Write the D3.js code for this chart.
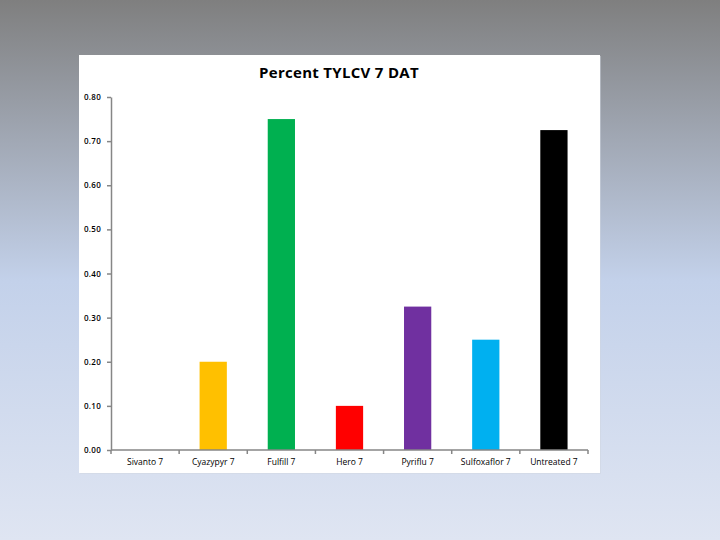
<!DOCTYPE html>
<html>
<head>
<meta charset="utf-8">
<script src="https://cdn.jsdelivr.net/npm/d3@7"></script>
<style>
  body { margin: 0; }
  svg { display: block; }
</style>
</head>
<body>
<div id="chart"></div>
<script>
var categories = ["Sivanto 7", "Cyazypyr 7", "Fulfill 7", "Hero 7", "Pyriflu 7", "Sulfoxaflor 7", "Untreated 7"];
var values = [0, 0.20, 0.75, 0.10, 0.325, 0.25, 0.725];
var colors = ["#7f7f7f", "#ffc000", "#00b050", "#ff0000", "#7030a0", "#00b0f0", "#000000"];
var yTicks = [0, 0.1, 0.2, 0.3, 0.4, 0.5, 0.6, 0.7, 0.8];

var svgwidth = 720, svgheight = 540;
var svg = d3.select("#chart").append("svg").attr("width", svgwidth).attr("height", svgheight);

// slide background
var defs = svg.append("defs");
var grad = defs.append("linearGradient").attr("id", "bg").attr("x1", 0).attr("y1", 0).attr("x2", 0).attr("y2", 1);
grad.append("stop").attr("offset", "0%").attr("stop-color", "#7f7f7f");
grad.append("stop").attr("offset", "52%").attr("stop-color", "#c3d1ea");
grad.append("stop").attr("offset", "100%").attr("stop-color", "#dfe5f2");
svg.append("rect").attr("width", svgwidth).attr("height", svgheight).attr("fill", "url(#bg)");

// chart box
svg.append("rect").attr("x", 80).attr("y", 56).attr("width", 521).attr("height", 418).attr("fill", "#d0d6e0").attr("opacity", 0.5);
svg.append("rect").attr("x", 79).attr("y", 55).attr("width", 521).attr("height", 418).attr("fill", "#ffffff");

var margin = {left: 111, right: 588, top: 97, bottom: 450};

var xscale = d3.scaleBand().domain(categories).range([margin.left, margin.right]).paddingInner(0.6).paddingOuter(0.3);
var yscale = d3.scaleLinear().domain([0, 0.8]).range([margin.bottom, margin.top]);

svg.append("text").attr("x", 339).attr("y", 78).attr("text-anchor", "middle")
  .style("font-family", "'Open Sans', sans-serif").style("font-weight", "bold").style("font-size", "15px")
  .style("letter-spacing", "0.3px")
  .text("Percent TYLCV 7 DAT");

// bars
svg.selectAll("rect.bar").data(values).enter().append("rect").attr("class", "bar")
  .attr("x", (d, i) => xscale(categories[i]))
  .attr("y", d => yscale(d))
  .attr("width", xscale.bandwidth())
  .attr("height", d => yscale(0) - yscale(d))
  .attr("fill", (d, i) => colors[i]);

// y axis
var axisleft = d3.axisLeft(yscale).tickValues(yTicks).tickFormat(d3.format(".2f")).tickSize(4).tickSizeOuter(0);
var gy = svg.append("g").attr("transform", `translate(${margin.left},0)`).call(axisleft);
gy.select(".domain").attr("stroke", "#868686").attr("stroke-width", 1.5);
gy.selectAll(".tick line").attr("stroke", "#868686").attr("stroke-width", 1.5);
gy.selectAll(".tick text").attr("text-anchor", "start").attr("x", 84 - margin.left)
  .style("font-family", "'Open Sans', sans-serif").style("font-size", "8px").style("font-weight", "600")
  .style("letter-spacing", "0.3px").attr("fill", "#000");

// x axis
var step = (margin.right - margin.left) / categories.length;
var gx = svg.append("g").attr("transform", `translate(0,${margin.bottom})`);
gx.append("line").attr("x1", margin.left).attr("x2", margin.right).attr("stroke", "#868686").attr("stroke-width", 1.5);
gx.selectAll("line.tk").data(d3.range(categories.length + 1)).enter().append("line").attr("class", "tk")
  .attr("x1", i => margin.left + i * step).attr("x2", i => margin.left + i * step)
  .attr("y1", 0).attr("y2", 4).attr("stroke", "#868686").attr("stroke-width", 1.5);
gx.selectAll("text").data(categories).enter().append("text")
  .attr("x", d => xscale(d) + xscale.bandwidth() / 2).attr("y", 15).attr("text-anchor", "middle")
  .style("font-family", "'Open Sans', sans-serif").style("font-size", "8.5px").attr("fill", "#000")
  .text(d => d);
</script>
</body>
</html>
